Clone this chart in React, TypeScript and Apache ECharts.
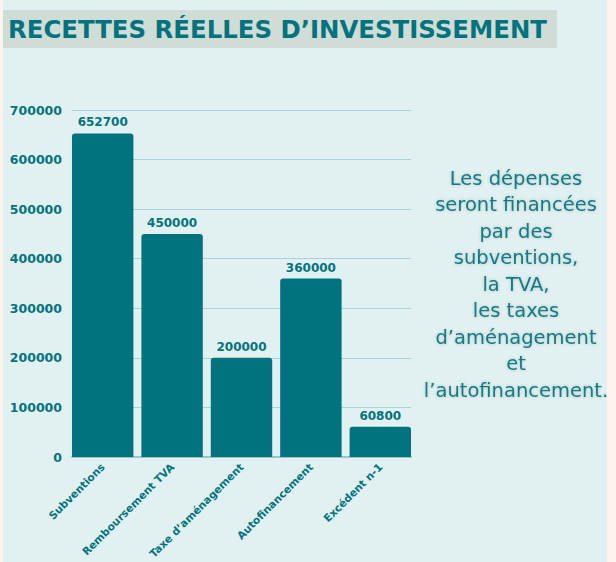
import React, { useEffect, useRef } from "react";
import * as echarts from "echarts";

const categories = ["Subventions", "Remboursement TVA", "Taxe d’aménagement", "Autofinancement", "Excédent n-1"];
const values = [652700, 450000, 200000, 360000, 60800];
const titleText = "RECETTES RÉELLES D’INVESTISSEMENT";
const noteLines = [
  "Les dépenses",
  "seront financées",
  "par des",
  "subventions,",
  "la TVA,",
  "les taxes",
  "d’aménagement",
  "et",
  "l’autofinancement.",
];

const TEAL = "#00737e";
const FONT = "'DejaVu Sans', sans-serif";

export default function App() {
  const ref = useRef<HTMLDivElement>(null);
  useEffect(() => {
    document.body.style.margin = "0";
    const chart = echarts.init(ref.current!, undefined, { renderer: "svg" });
    chart.setOption({
      animation: false,
      backgroundColor: "#fdf3ef",
      graphic: [
        { type: "rect", z: -10, shape: { x: 3, y: 0, width: 604, height: 562 }, style: { fill: "#e1f0f1" } },
        { type: "rect", z: -5, shape: { x: 3, y: 10, width: 554, height: 38 }, style: { fill: "#d0ddd6" } },
        {
          type: "text",
          x: 8,
          y: 29,
          style: { text: titleText, fill: TEAL, font: `bold 24.4px ${FONT}`, verticalAlign: "middle" },
        },
        {
          type: "text",
          x: 516,
          y: 165,
          style: {
            text: noteLines.join("\n"),
            fill: "#177a82",
            font: `19.5px ${FONT}`,
            lineHeight: 26.5,
            align: "center",
            textShadowColor: "rgba(0,60,60,0.25)",
            textShadowBlur: 3,
          },
        },
      ],
      grid: [
        { left: 68, right: 201, top: 110, bottom: 105, outerBoundsMode: "none", containLabel: false },
        { left: 72, right: 205, top: 110, bottom: 105, outerBoundsMode: "none", containLabel: false },
      ],
      xAxis: [
        {
          type: "category",
          gridIndex: 0,
          data: categories,
          axisTick: { show: false },
          axisLine: { show: false },
          axisLabel: { rotate: 45, color: TEAL, fontWeight: "bold", fontSize: 10.6, fontFamily: FONT, interval: 0, margin: 8 },
        },
        {
          type: "category",
          gridIndex: 1,
          data: categories,
          axisTick: { show: false },
          axisLabel: { show: false },
          axisLine: { lineStyle: { color: "#9cc4c8", width: 2 } },
        },
      ],
      yAxis: [
        {
          type: "value",
          gridIndex: 0,
          min: 0,
          max: 700000,
          interval: 100000,
          axisLabel: { show: false },
          splitLine: { show: false },
          axisLine: { show: false },
          axisTick: { show: false },
        },
        {
          type: "value",
          gridIndex: 1,
          min: 0,
          max: 700000,
          interval: 100000,
          axisLabel: { color: TEAL, fontWeight: "bold", fontSize: 12.5, fontFamily: FONT, margin: 10, formatter: (v: number) => String(v) },
          splitLine: { lineStyle: { color: "#a9d3db", width: 1 } },
          axisLine: { show: false },
          axisTick: { show: false },
        },
      ],
      series: [
        {
          type: "bar",
          xAxisIndex: 0,
          yAxisIndex: 0,
          data: values,
          barCategoryGap: "11.5%",
          z: 3,
          itemStyle: { color: TEAL, borderRadius: [3, 3, 0, 0] },
          label: { show: true, position: "top", color: TEAL, fontWeight: "bold", fontSize: 12, fontFamily: FONT, distance: 5 },
        },
      ],
    });
    return () => chart.dispose();
  }, []);
  return <div ref={ref} style={{ position: "fixed", left: 0, top: 0, width: 616, height: 562 }} />;
}
